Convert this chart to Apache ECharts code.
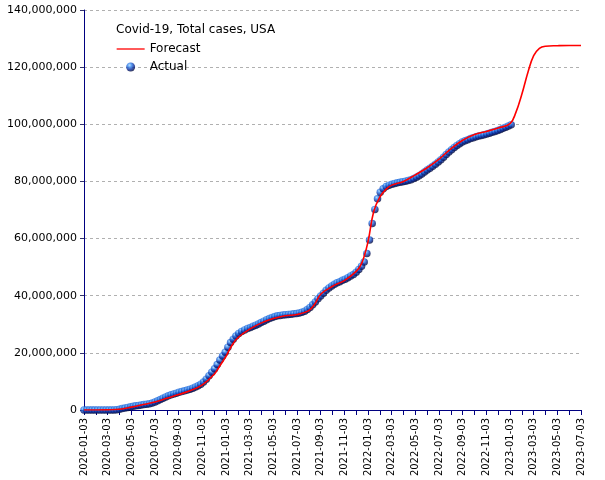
<!DOCTYPE html>
<html>
<head>
<meta charset="utf-8">
<script src="https://cdn.jsdelivr.net/npm/echarts@6/dist/echarts.min.js"></script>
<style>html,body{margin:0;padding:0;background:#fff;}#c{width:605px;height:480px;}</style>
</head>
<body>
<div id="c"></div>
<script>
// Tick labels on the x axis (every 2 months)
var xTickLabels = ['2020-01-03','2020-03-03','2020-05-03','2020-07-03','2020-09-03','2020-11-03',
  '2021-01-03','2021-03-03','2021-05-03','2021-07-03','2021-09-03','2021-11-03',
  '2022-01-03','2022-03-03','2022-05-03','2022-07-03','2022-09-03','2022-11-03',
  '2023-01-03','2023-03-03','2023-05-03','2023-07-03'];

// Actual: weekly cumulative cases (millions), first week 2020-01-03
var actualStart = '2020-01-03';
var actualMillions = [
  0,0,0,0,0,0,0,0,0,0,0.002,0.02,0.1,0.27,0.5,0.7,0.9,1.1,1.3,1.45,
  1.6,1.75,1.9,2.05,2.2,2.45,2.8,3.2,3.65,4.1,4.55,4.95,5.3,5.6,5.9,6.2,6.45,6.7,7.0,7.3,
  7.65,8.05,8.5,9.05,9.8,10.8,12.0,13.2,14.4,15.9,17.5,18.9,20.2,22.0,23.6,24.8,25.9,26.8,27.5,28.0,
  28.5,28.9,29.3,29.7,30.1,30.6,31.1,31.6,32.0,32.4,32.7,32.95,33.1,33.25,33.35,33.45,33.55,33.65,33.75,33.95,
  34.2,34.6,35.2,35.9,36.8,37.8,38.9,39.9,40.9,41.9,42.7,43.4,44.0,44.5,44.9,45.4,45.8,46.3,46.9,47.4,
  48.2,49.2,50.3,51.8,54.8,59.5,65.3,70.2,73.9,76.2,77.4,78.2,78.7,79.0,79.3,79.5,79.7,79.9,80.1,80.3,
  80.6,81.0,81.5,82.0,82.6,83.3,84.0,84.6,85.3,86.0,86.8,87.6,88.5,89.4,90.3,91.1,91.9,92.6,93.2,93.8,
  94.2,94.6,95.0,95.3,95.6,95.9,96.1,96.3,96.6,96.9,97.2,97.5,97.8,98.2,98.6,99.0,99.4,99.8
];

// Forecast (millions)
var forecastDates = ['2020-01-03','2020-02-03','2020-03-03','2020-04-03','2020-05-03','2020-06-03','2020-07-03',
  '2020-08-03','2020-09-03','2020-10-03','2020-11-03','2020-12-03','2020-12-18','2021-01-03','2021-01-18',
  '2021-02-03','2021-03-03','2021-04-03','2021-05-03','2021-06-03','2021-07-03','2021-08-03','2021-08-18',
  '2021-09-03','2021-10-03','2021-11-03','2021-12-03','2021-12-18','2022-01-03','2022-01-18','2022-02-03',
  '2022-02-18','2022-03-03','2022-04-03','2022-05-03','2022-06-03','2022-07-03','2022-08-03','2022-09-03',
  '2022-10-03','2022-11-03','2022-12-03','2023-01-03','2023-01-18','2023-02-03','2023-02-18','2023-03-03',
  '2023-03-18','2023-04-03','2023-05-03','2023-06-03','2023-07-03'];
var forecastMillions = [0,0,0.05,0.25,1.0,1.9,2.8,
  4.1,5.4,6.8,8.8,12.5,15.5,18.8,22.5,
  25.3,28.3,30.5,32.0,33.0,33.4,34.8,37.0,
  40.5,43.3,45.3,48.5,51.5,58.9,69.5,74.5,
  77.3,78.7,80.0,82.3,84.8,87.8,91.4,94.4,
  96.4,97.5,98.7,100.2,104.0,110.5,118.5,124.0,
  126.6,127.3,127.5,127.6,127.6];

function daysIn(y, m) { return new Date(Date.UTC(y, m + 1, 0)).getUTCDate(); }
function monthIndex(d) {
  var y = d.getUTCFullYear(), m = d.getUTCMonth(), day = d.getUTCDate();
  return (y - 2020) * 12 + m + (day - 3) / daysIn(y, m);
}
function parse(s) { var p = s.split('-'); return new Date(Date.UTC(+p[0], +p[1] - 1, +p[2])); }

var t0 = parse(actualStart);
var actualData = actualMillions.map(function (v, k) {
  var d = new Date(t0.getTime() + k * 7 * 86400000);
  return [monthIndex(d), v * 1e6];
});
var forecastData = forecastDates.map(function (s, i) {
  return [monthIndex(parse(s)), forecastMillions[i] * 1e6];
});

var FONT = 'DejaVu Sans';
var chart = echarts.init(document.getElementById('c'), null, {renderer: 'canvas'});
var sphere = {
  type: 'radial', x: 0.38, y: 0.3, r: 0.78,
  colorStops: [
    {offset: 0, color: '#a8d8ff'},
    {offset: 0.3, color: '#2f80ec'},
    {offset: 0.62, color: '#0b2c9c'},
    {offset: 1, color: '#00001e'}
  ]
};
chart.setOption({
  animation: false,
  backgroundColor: '#fff',
  title: {
    text: 'Covid-19, Total cases, USA',
    left: 116, top: 24, padding: 0,
    textStyle: {fontFamily: FONT, fontSize: 12, fontWeight: 'normal', color: '#000'}
  },
  legend: {
    orient: 'vertical', left: 116, top: 43, padding: 0,
    itemWidth: 28, itemHeight: 9, itemGap: 6,
    textStyle: {fontFamily: FONT, fontSize: 12, color: '#000'},
    data: [
      {name: 'Forecast', itemStyle: {opacity: 0}, lineStyle: {width: 1.3}},
      {name: 'Actual', icon: 'circle'}
    ]
  },
  grid: {left: 84, right: 24, top: 10, bottom: 70, containLabel: false},
  xAxis: {
    type: 'value', min: 0, max: 42, interval: 1,
    axisLine: {lineStyle: {color: '#000080', width: 1}},
    axisTick: {show: true, length: 5, lineStyle: {color: '#000080'}},
    axisLabel: {
      rotate: 90, margin: 8, fontFamily: FONT, fontSize: 10, color: '#000',
      formatter: function (v) { return (v % 2 === 0) ? xTickLabels[v / 2] : ''; }
    },
    splitLine: {show: false}
  },
  yAxis: {
    type: 'value', min: 0, max: 140000000, interval: 20000000,
    axisLine: {show: true, lineStyle: {color: '#000080', width: 1}},
    axisTick: {show: true, length: 4, lineStyle: {color: '#33336b'}},
    axisLabel: {
      margin: 7, fontFamily: FONT, fontSize: 11, color: '#000',
      formatter: function (v) { return v.toLocaleString('en-US'); }
    },
    splitLine: {show: true, lineStyle: {color: '#b0b0b0', type: [3, 3], width: 1}}
  },
  series: [
    {
      name: 'Actual', type: 'scatter', data: actualData,
      symbol: 'circle', symbolSize: 7.5, z: 2,
      itemStyle: {color: sphere}
    },
    {
      name: 'Forecast', type: 'line', data: forecastData,
      symbol: 'none', smooth: 0.4, z: 3,
      lineStyle: {color: '#ff0000', width: 1.6},
      itemStyle: {color: '#ff0000'}
    }
  ]
});
</script>
</body>
</html>
